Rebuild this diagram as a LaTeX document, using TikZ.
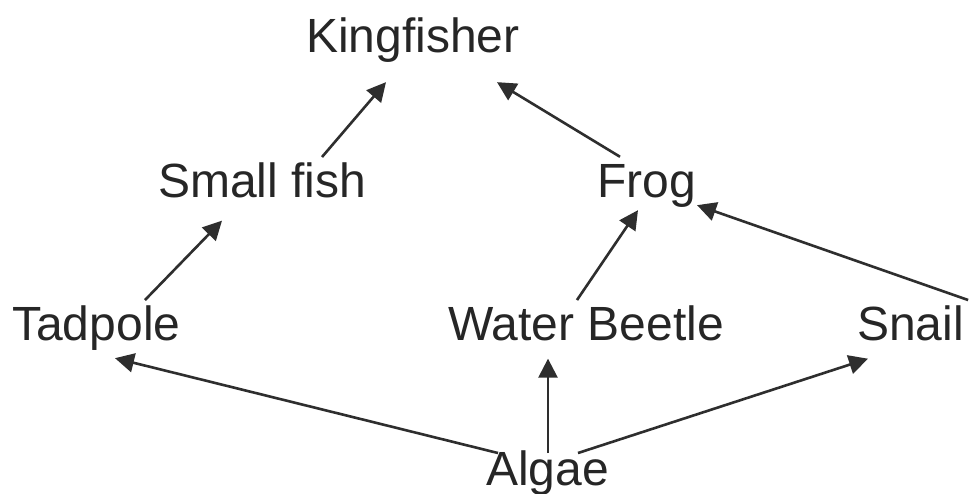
\documentclass[tikz,border=0pt]{standalone}
\usepackage{fontspec}
\setmainfont{Liberation Sans}
\usetikzlibrary{arrows.meta,calc}
\definecolor{inkText}{HTML}{262626}
\definecolor{inkLine}{HTML}{2E2E2E}
\tikzset{
  species/.style={inner sep=0pt, anchor=base west, text=inkText,
    font=\fontsize{48}{58}\selectfont},
  eats/.style={draw=inkLine, line width=2.6pt,
    -{Triangle[length=19pt,width=19pt]}}
}
\begin{document}
\begin{tikzpicture}[x=1pt,y=-1pt]
\useasboundingbox[fill=white] (0,0) rectangle (972,493);

% organisms of the pond food web (y grows downwards)
\node[species] (king)  at (306,52)  {Kingfisher};
\node[species] (fish)  at (158,197) {Small fish};
\node[species] (frog)  at (597,197) {Frog};
\node[species] (tad)   at (12,340)  {Tadpole};
\node[species] (beet)  at (448,340) {Water Beetle};
\node[species] (snail) at (857,340) {Snail};
\node[species] (algae) at (486,485) {Algae};

% energy flow: prey -> predator
\draw[eats] ($(fish.north west)+(164,-5)$)  -- ($(king.south west)+(80,20)$);
\draw[eats] ($(frog.north west)+(23,-7)$)   -- ($(king.south west)+(191,20)$);
\draw[eats] ($(tad.north west)+(133,-5)$)   -- ($(fish.south west)+(64,23)$);
\draw[eats] ($(beet.north west)+(129,-5)$)  -- ($(frog.south west)+(41,3)$);
\draw[eats] ($(snail.north east)+(4,-5)$)   -- ($(frog.south east)+(1,-2)$);
\draw[eats] ($(algae.north west)+(12,3)$)   -- ($(tad.south west)+(103,8)$);
\draw[eats] ($(algae.north west)+(62,3)$)   -- ($(beet.south west)+(100,18)$);
\draw[eats] ($(algae.north west)+(92,3)$)   -- ($(snail.south west)+(11,18)$);
\end{tikzpicture}
\end{document}
